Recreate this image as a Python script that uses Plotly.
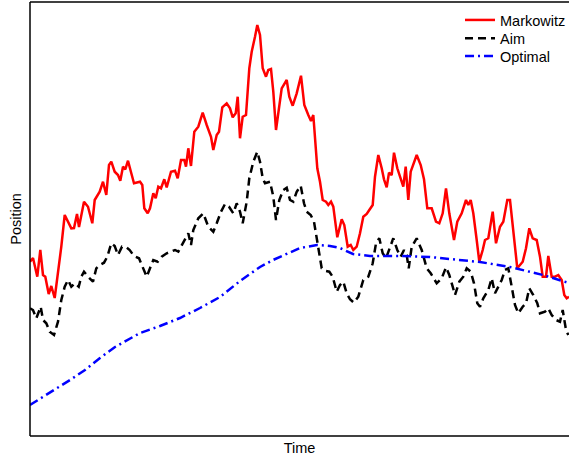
import plotly.graph_objects as go

# Time (arbitrary units) and position values
markowitz_t = [0, 3, 7.3, 10.3, 13, 15.3, 18.7, 21.3, 24.7, 28, 31.3, 34.7, 38, 41.3, 44, 47, 49, 54, 58, 62.3,
               64.7, 69.7, 73, 76.3, 79, 81.3, 84.7, 88, 90.3, 93, 95.3, 98, 101.3, 104, 110, 112.3, 114.3, 117.7, 120, 123.3,
               125.7, 128.3, 131, 134.3, 136.7, 141, 145, 147.7, 151, 154.3, 156, 158.3, 161, 164.3, 168.3, 172.7, 176.7, 181, 183.3, 186.7,
               189, 192.3, 196.7, 200, 202.7, 205.7, 207.7, 210, 212.7, 216, 219.3, 221.7, 225, 227.3, 230, 232.7, 236, 238.3, 241, 243.3,
               246, 249.3, 251.7, 256.7, 259.3, 262.7, 266.7, 271, 274.3, 278.3, 281, 283.3, 287.3, 290, 292.7, 296, 298.3, 301, 303.3, 307.3,
               311.7, 314.3, 317.7, 320.7, 323.3, 326.7, 330, 333.3, 336.7, 339.3, 342.7, 345, 348.3, 351.7, 354, 356.7, 359, 361.7, 364, 367.3,
               370.7, 373.3, 375.7, 378.3, 380.7, 383.3, 386.7, 390.7, 394, 397.3, 401.7, 406, 409.3, 412.7, 416, 419.3, 424, 427.3, 431.7, 436,
               438.3, 440.7, 443.3, 446.7, 449.3, 452.7, 455, 458.3, 462.7, 466, 470, 473.3, 477.3, 480, 483.3, 487.3, 492.7, 496, 499.3, 502.7,
               506.7, 510, 512.7, 516, 518.3, 521.7, 525, 528.3, 531.7, 534.3, 536.7, 539]
markowitz = [174.3, 178, 159.3, 186, 161, 159.3, 142, 150, 138, 163, 189.3, 221, 214.3, 207.7, 208, 222, 209, 234.3, 229.3, 212.7,
             236, 244.3, 254.3, 241, 271, 274.3, 264.3, 261, 255.3, 269.3, 266.7, 275.3, 262.7, 252.7, 254.3, 251, 227.7, 222.7, 227.7, 242.7,
             237.7, 249.3, 247.7, 256.7, 248.7, 264.3, 265.3, 257.7, 276, 276, 269.3, 287.7, 270, 304.3, 309.3, 323.3, 311, 299.3, 286, 301,
             304.3, 328.7, 332.7, 327.7, 318.7, 322.7, 339.3, 297.7, 319.3, 321, 367.7, 384.3, 399.3, 411, 401, 367.7, 359.3, 366, 367, 344.3,
             306, 332.7, 347.7, 356, 339.3, 330.3, 342.7, 360.3, 331, 321, 315, 321, 267.7, 254.3, 236, 234.3, 231, 234.3, 229.3, 198.7,
             216.7, 211, 189.3, 191, 186, 189.3, 202.7, 219.3, 222, 226, 231, 259.3, 281, 267.7, 256.7, 248.7, 263.3, 261, 283.3, 267.7,
             256, 249.3, 269.3, 236, 264.3, 271, 281, 271, 256.7, 227.7, 227.7, 214.3, 212.7, 222.7, 247.7, 222.7, 196, 214.3, 222.7, 236,
             231, 236, 222.7, 196, 174.3, 186, 196, 197.7, 224.3, 192.7, 209.3, 214.3, 236, 236, 206, 167.7, 174.3, 187.7, 207.7, 197.7,
             196, 179.3, 159.3, 159.3, 180, 159.3, 159.3, 161, 156, 141, 137.7, 139.3]

aim_t = [0, 3, 6.3, 10.7, 13, 16.3, 19.7, 24, 28, 31.3, 34.7, 38, 41.3, 44.7, 48.7, 51.3, 54, 58, 63, 66.3,
         69.7, 74, 77.3, 81.3, 84.7, 88, 92, 96.3, 99.7, 104, 109, 112.3, 116.7, 120, 123.3, 127.7, 131.7, 136.7, 140, 145,
         148.3, 153.3, 158.3, 161, 163.3, 168.3, 173.3, 178.3, 183.3, 186.7, 191, 195, 199, 203.3, 206.7, 210, 212.7, 216.7, 219.3, 223.3,
         227.3, 230, 232.7, 235, 240, 243.3, 246, 249.3, 253.3, 256.7, 260, 263.3, 266.7, 270.7, 274, 276.7, 280.7, 284, 288.3, 291.7,
         296, 299.3, 302.7, 306.7, 310, 313.3, 316.7, 320, 324, 328.3, 333.3, 338.3, 342.7, 346, 349.3, 352.7, 356, 359.3, 363.3, 367.3,
         370.7, 374, 376.7, 378.7, 381.7, 386.7, 391.7, 396.7, 400.7, 406.7, 411.7, 416, 419.3, 422.7, 425, 429.3, 433.3, 436.7, 440.7, 444,
         447.3, 450, 453.3, 458.3, 461.7, 465, 468.3, 471.7, 475, 478.3, 481.7, 485, 488.3, 492.7, 496, 499.3, 503.3, 507.3, 510, 515,
         518.3, 521.7, 526, 530, 532.7, 536, 538.3]
aim = [127.7, 126, 117.7, 129.3, 116, 112.7, 104.3, 101, 114.3, 136, 149.3, 156, 149.3, 152.7, 149.3, 159.3, 164.3, 159.3, 154.3, 167.7,
       171, 173.3, 179.3, 192.7, 190, 181, 189.3, 188.7, 186, 180, 177.7, 169.3, 159.3, 167.7, 176, 174.3, 179.3, 182.7, 184.3, 186,
       184.3, 194.3, 202.7, 191, 206, 217.7, 222.7, 209.3, 204.3, 212.7, 224.3, 232, 229.3, 222.7, 232.7, 224.3, 212.7, 234.3, 257.7, 274.3,
       284.3, 274.3, 257.7, 252.7, 254.3, 239.3, 216, 236, 246, 248.3, 236, 234.3, 244.3, 250.3, 232.7, 224.3, 221, 214.3, 187.7, 167.7,
       165, 164.3, 159.3, 144.3, 151, 154.3, 142.7, 136.7, 133.3, 139.3, 156, 159.3, 172.7, 192.7, 197.7, 182.7, 177.7, 186, 197.7, 186,
       179.3, 186, 181, 167.7, 189.3, 197.7, 186, 167.7, 162.7, 152.7, 157.7, 168.7, 161, 149.3, 141, 154.3, 159.3, 167.7, 164.3, 152.7,
       132.7, 129.3, 137.7, 146, 157.7, 142.7, 149.3, 156, 166, 167.7, 149.3, 131, 122.7, 129.3, 132.7, 147.7, 141, 132.7, 122.7, 124.3,
       127.7, 121, 116, 114.3, 126, 106, 101]

optimal_t = [0, 13, 25, 40, 55, 70, 85, 98, 110, 130, 150, 170, 190, 210, 230, 243, 260, 270, 287, 300,
             310, 323, 340, 370, 400, 430, 450, 480, 513, 539]
optimal = [31, 39, 46, 56, 66, 78, 89, 96, 103, 110, 118, 128, 139, 155, 169, 176, 184, 188, 191, 190,
           188, 182, 180, 180, 179, 176, 174, 169, 161, 153]

assert len(markowitz_t) == len(markowitz), (len(markowitz_t), len(markowitz))
assert len(aim_t) == len(aim), (len(aim_t), len(aim))
assert len(optimal_t) == len(optimal)

FONT = "Liberation Sans, Arial, Helvetica, sans-serif"
LEG_FONT = dict(family=FONT, size=14.5, color="black")

fig = go.Figure()
fig.add_trace(go.Scatter(x=markowitz_t, y=markowitz, mode="lines", name="Markowitz", legend="legend",
                         line=dict(color="#ff0000", width=2.5)))
fig.add_trace(go.Scatter(x=aim_t, y=aim, mode="lines", name="Aim", legend="legend2",
                         line=dict(color="#000000", width=2.5, dash="8px,5px")))
fig.add_trace(go.Scatter(x=optimal_t, y=optimal, mode="lines", name="Optimal", legend="legend3",
                         line=dict(color="#0000ff", width=2.5, dash="9px,4px,2px,4px")))

def leg(ypaper):
    return dict(x=0.7978, y=ypaper, xanchor="left", yanchor="middle", bgcolor="rgba(0,0,0,0)",
                font=LEG_FONT, borderwidth=0, itemwidth=30)

frame = dict(color="black", width=1.5)
fig.update_layout(
    width=569, height=457,
    margin=dict(l=30, r=0, t=2, b=21, autoexpand=False),
    paper_bgcolor="white", plot_bgcolor="white",
    font=dict(family=FONT, size=14, color="black"),
    showlegend=True,
    legend=leg(0.9585), legend2=leg(0.9164), legend3=leg(0.8756),
    xaxis=dict(range=[0, 539], showgrid=False, zeroline=False, showticklabels=False, ticks="",
               showline=False, fixedrange=True,
               title=dict(text="Time", standoff=6, font=dict(family=FONT, size=14.5)), automargin=False),
    yaxis=dict(range=[0, 434], showgrid=False, zeroline=False, showticklabels=False, ticks="",
               showline=False, fixedrange=True,
               title=dict(text="Position", standoff=3, font=dict(family=FONT, size=14.5)), automargin=False),
    shapes=[
        dict(type="line", xref="paper", yref="paper", x0=0, x1=1.02, y0=1, y1=1, line=frame),
        dict(type="line", xref="paper", yref="paper", x0=0, x1=1.02, y0=0, y1=0, line=frame),
        dict(type="line", xref="paper", yref="paper", x0=0, x1=0, y0=0, y1=1, line=frame),
    ],
)

fig.write_html("out.html", config={"displayModeBar": False})
